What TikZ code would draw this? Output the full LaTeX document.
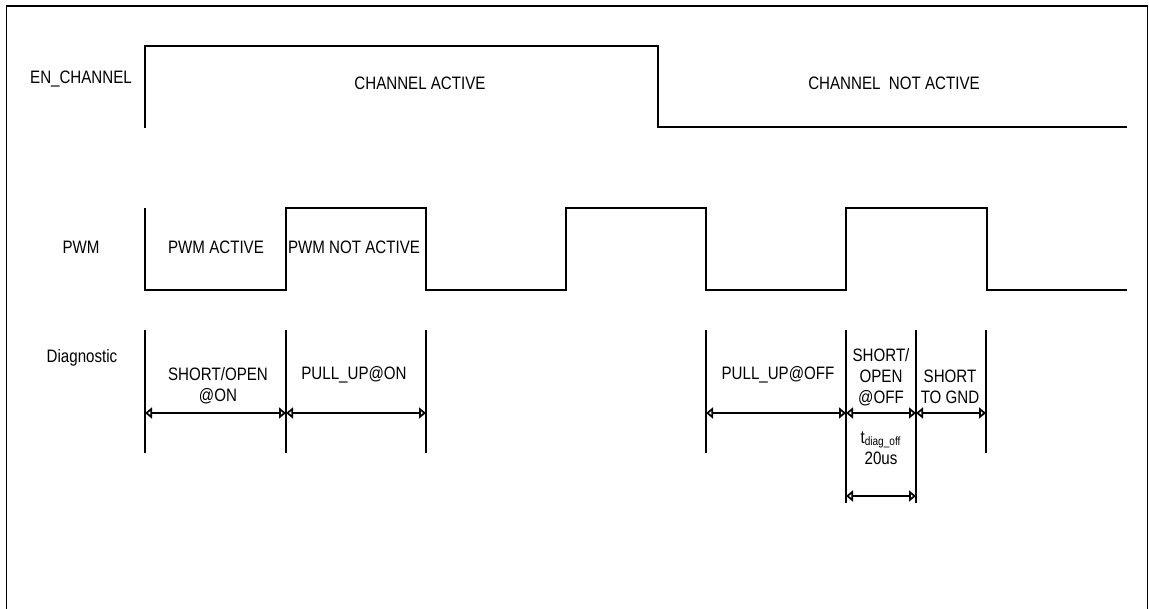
\documentclass[tikz,border=0pt]{standalone}
\usepackage{fontspec}
\setmainfont[FakeStretch=0.84]{Liberation Sans}
\usetikzlibrary{arrows.meta}

\tikzset{
    sig/.style={line width=1.1pt},
    limit/.style={line width=1pt},
    span/.style={line width=1pt,
        {Triangle[open,length=3.5pt,width=5.5pt]}-{Triangle[open,length=3.5pt,width=5.5pt]}},
    lbl/.style={font=\fontsize{9}{10.4}\selectfont, align=center, inner sep=0pt},
}

\begin{document}
\begin{tikzpicture}[x=0.5pt, y=-0.5pt]
    \useasboundingbox (0,0) rectangle (1149,609);

    % Frame
    \draw[line width=0.8pt] (6.5,609) -- (6.5,6) -- (1147.5,6) -- (1147.5,609);

    % Signal names
    \node[lbl] (en) at (81, 79) {EN\_CHANNEL};
    \node[lbl] (pwm) at (81, 247) {PWM};
    \node[lbl] (diag) at (82, 358) {Diagnostic};

    % Waveforms
    \draw[sig] (145,128) -- (145,46) -- (658,46) -- (658,127) -- (1127,127);
    \draw[sig] (145,208) -- (145,290) -- (286,290) -- (286,208) -- (426,208)
        -- (426,290) -- (566,290) -- (566,208) -- (706,208) -- (706,290)
        -- (846,290) -- (846,208) -- (987,208) -- (987,290) -- (1127,290);

    \node[lbl] (act) at (420, 83) {CHANNEL ACTIVE};
    \node[lbl] (nact) at (894, 83) {CHANNEL\ \ NOT ACTIVE};
    \node[lbl] (pa) at (216, 247) {PWM ACTIVE};
    \node[lbl] (pna) at (354, 247) {PWM NOT ACTIVE};

    % Diagnostic windows
    \foreach \n/\x in {a/145, b/286, c/426, d/706, g/986} {
        \coordinate (\n0) at (\x, 330);
        \coordinate (\n1) at (\x, 413);
        \coordinate (\n2) at (\x, 453);
        \draw[limit] (\n0) -- (\n2);
    }
    \foreach \n/\x in {e/846, f/916} {
        \coordinate (\n0) at (\x, 330);
        \coordinate (\n1) at (\x, 413);
        \coordinate (\n3) at (\x, 496);
        \coordinate (\n2) at (\x, 503);
        \draw[limit] (\n0) -- (\n2);
    }

    \draw[span] (a1) -- (b1);
    \draw[span] (b1) -- (c1);
    \draw[span] (d1) -- (e1);
    \draw[span] (e1) -- (f1);
    \draw[span] (f1) -- (g1);
    \draw[span] (e3) -- (f3);

    \node[lbl] (so) at (218, 385.5) {SHORT/OPEN\\@ON};
    \node[lbl] (puon) at (354, 375) {PULL\_UP@ON};
    \node[lbl] (puoff) at (778, 375) {PULL\_UP@OFF};
    \node[lbl] (sooff) at (881, 377) {SHORT/\\OPEN\\@OFF};
    \node[lbl] (gnd) at (950, 387) {SHORT\\TO GND};
    \node[lbl] (tdiag) at (881, 448) {t\textsubscript{diag\_off}\\20us};
\end{tikzpicture}
\end{document}
